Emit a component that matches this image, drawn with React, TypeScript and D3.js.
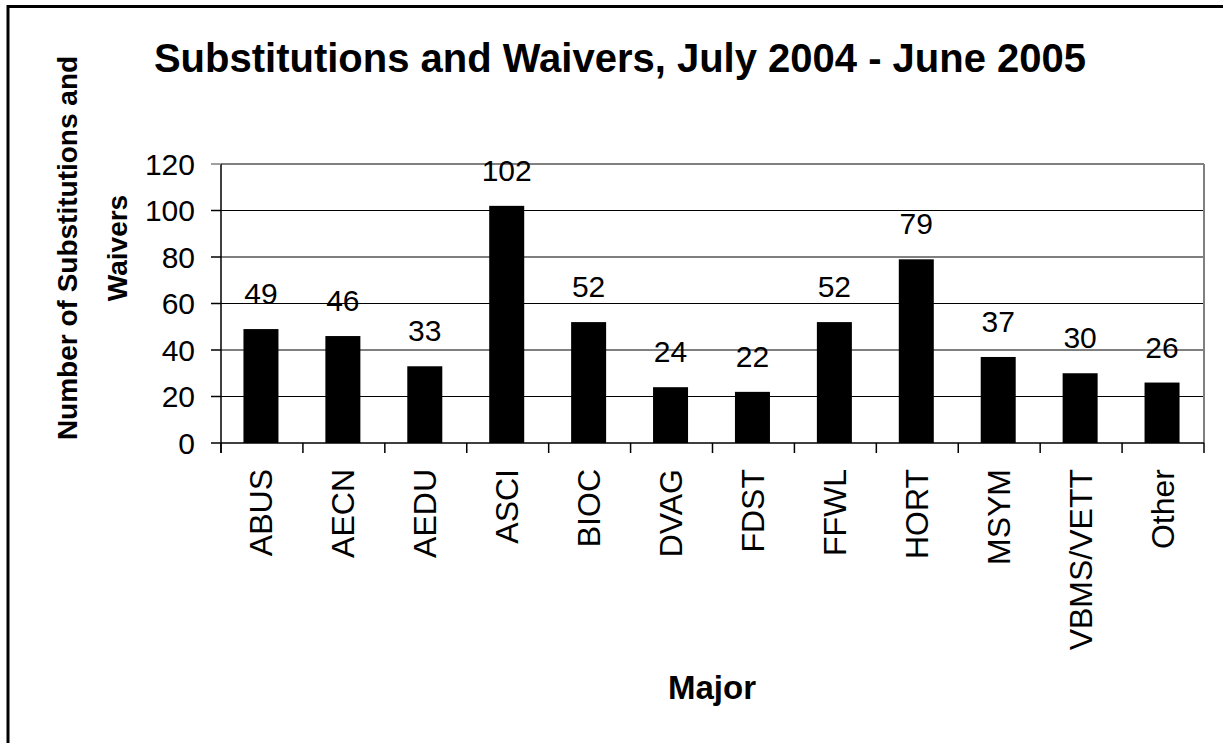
import React from "react";
import * as d3 from "d3";

const categories = ["ABUS", "AECN", "AEDU", "ASCI", "BIOC", "DVAG", "FDST", "FFWL", "HORT", "MSYM", "VBMS/VETT", "Other"];
const values = [49, 46, 33, 102, 52, 24, 22, 52, 79, 37, 30, 26];
const yTicks = [0, 20, 40, 60, 80, 100, 120];
const titleText = "Substitutions and Waivers, July 2004 - June 2005";
const yTitleLines = ["Number of Substitutions and", "Waivers"];
const xTitleText = "Major";

const W = 1223;
const H = 743;
const FONT = "'Liberation Sans', Arial, Helvetica, sans-serif";

export default function App() {
  const left = 221;
  const right = 1204;
  const top = 164;
  const bottom = 443;

  const x = d3.scaleBand<string>().domain(categories).range([left, right]).paddingInner(0).paddingOuter(0);
  const y = d3.scaleLinear().domain([0, 120]).range([bottom, top]);
  const barW = 35;
  const bw = x.bandwidth();

  const boundaries = d3.range(categories.length + 1).map((i) => left + i * bw);

  return (
    <svg
      width={W}
      height={H}
      style={{ position: "absolute", left: 0, top: 0, background: "#fff" }}
      fontFamily={FONT}
    >
      <rect x={0} y={0} width={W} height={H} fill="#fff" />
      {/* outer chart border */}
      <rect x={8} y={6.5} width={1240} height={800} fill="none" stroke="#000" strokeWidth={3} />

      {/* title */}
      <text x={620} y={72} textAnchor="middle" fontSize={40} fontWeight="bold" fill="#000">
        {titleText}
      </text>

      {/* gridlines */}
      {yTicks.filter((t) => t > 0 && t < 120).map((t) => (
        <line key={"g" + t} x1={left} x2={right} y1={y(t)} y2={y(t)} stroke="#000" strokeWidth={1} />
      ))}
      {/* plot border top & right (gray) */}
      <line x1={left} x2={right} y1={y(120)} y2={y(120)} stroke="#808080" strokeWidth={2} />
      <line x1={right} x2={right} y1={y(120)} y2={bottom} stroke="#808080" strokeWidth={2} />

      {/* bars */}
      {categories.map((c, i) => {
        const cx = (x(c) as number) + bw / 2 - 1;
        return (
          <rect
            key={"b" + c}
            x={cx - barW / 2}
            y={y(values[i])}
            width={barW}
            height={bottom - y(values[i])}
            fill="#000"
          />
        );
      })}

      {/* value labels */}
      {categories.map((c, i) => {
        const cx = (x(c) as number) + bw / 2 - 1;
        return (
          <text key={"v" + c} x={cx} y={y(values[i]) - 25} textAnchor="middle" fontSize={30} fill="#000">
            {values[i]}
          </text>
        );
      })}

      {/* y axis */}
      <line x1={left} x2={left} y1={top} y2={bottom + 10} stroke="#000" strokeWidth={1.5} />
      {yTicks.map((t) => (
        <g key={"yt" + t}>
          <line x1={left - 10} x2={left} y1={y(t)} y2={y(t)} stroke={t === 120 ? "#808080" : "#000"} strokeWidth={1.5} />
          <text x={195} y={y(t)} dy="0.36em" textAnchor="end" fontSize={30} fill="#000">
            {t}
          </text>
        </g>
      ))}

      {/* x axis */}
      <line x1={left} x2={right} y1={bottom} y2={bottom} stroke="#000" strokeWidth={1.5} />
      {boundaries.map((bx, i) => (
        <line key={"xt" + i} x1={bx} x2={bx} y1={bottom} y2={bottom + 10} stroke="#000" strokeWidth={1.5} />
      ))}
      {categories.map((c) => {
        const cx = (x(c) as number) + bw / 2 - 1;
        return (
          <text
            key={"xl" + c}
            transform={`translate(${cx},469) rotate(-90)`}
            dy="0.36em"
            textAnchor="end"
            fontSize={32}
            fill="#000"
          >
            {c}
          </text>
        );
      })}

      {/* x title */}
      <text x={712} y={699} textAnchor="middle" fontSize={33} fontWeight="bold" fill="#000">
        {xTitleText}
      </text>

      {/* y title */}
      {yTitleLines.map((line, i) => (
        <text
          key={"yl" + i}
          transform={`translate(${77 + i * 50},248) rotate(-90)`}
          textAnchor="middle"
          fontSize={28}
          fontWeight="bold"
          fill="#000"
        >
          {line}
        </text>
      ))}
    </svg>
  );
}
